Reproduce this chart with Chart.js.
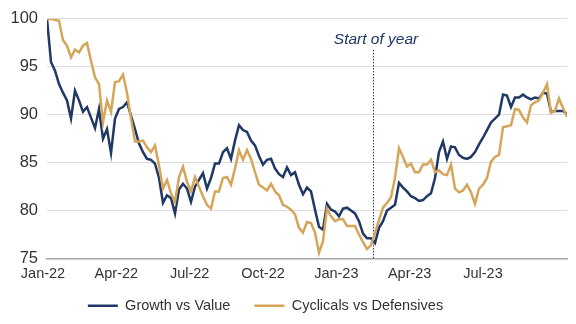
<!DOCTYPE html>
<html><head><meta charset="utf-8">
<script src="https://cdn.jsdelivr.net/npm/chart.js@4"></script>
<style>html,body{margin:0;padding:0;background:#fff}</style>
</head><body>
<canvas id="c" width="576" height="324"></canvas>
<script>
// ---- data ----
const seriesNames = ['Growth vs Value', 'Cyclicals vs Defensives'];
const tickLabels = ['Jan-22', 'Apr-22', 'Jul-22', 'Oct-22', 'Jan-23', 'Apr-23', 'Jul-23'];
const pointsPerLabel = 110 / 6;
const yTicks = [75, 80, 85, 90, 95, 100];
const startOfYearIndex = 81.5;
const startOfYearLabel = 'Start of year';

const growthVsValue = [
  100, 95.5, 94.6, 93.2, 92.3, 91.5, 89.6, 92.5, 91.5, 90.3,
  90.8, 89.7, 88.6, 90.6, 87.5, 88.5, 86.0, 89.6, 90.6, 90.8,
  91.3, 89.9, 88.5, 87.0, 86.1, 85.4, 85.3, 84.9, 83.4, 80.8,
  81.6, 81.3, 79.7, 82.2, 82.8, 82.3, 80.9, 82.5, 83.2, 83.9,
  82.3, 83.4, 84.9, 84.9, 86.1, 86.5, 85.4, 87.3, 88.9, 88.4,
  88.2, 87.3, 86.8, 85.7, 84.8, 85.3, 85.4, 84.4, 83.8, 83.5,
  84.5, 83.7, 84.0, 82.7, 81.7, 82.4, 82.0, 80.1, 78.3, 78.0,
  80.7, 80.1, 79.9, 79.4, 80.2, 80.3, 80.0, 79.7, 78.9, 77.6,
  77.1, 77.1, 76.6, 78.2, 78.9, 80.0, 80.3, 80.6, 82.9, 82.4,
  82.0, 81.5, 81.3, 81.0, 81.1, 81.5, 81.8, 83.4, 86.1, 87.2,
  85.4, 86.7, 86.6, 85.8, 85.5, 85.4, 85.6, 86.1, 86.9, 87.6,
  88.4, 89.2, 89.6, 90.0, 92.1, 92.0, 90.8, 91.8, 91.8, 92.1,
  91.8, 91.6, 91.8, 91.7, 92.3, 92.2, 90.3, 90.4, 90.4, 90.4,
  90.1
];

const cyclicalsVsDefensives = [
  100, 100, 99.9, 99.8, 97.8, 97.2, 96.0, 96.8, 96.5, 97.2,
  97.5, 95.6, 93.9, 93.2, 89.2, 91.5, 90.3, 93.4, 93.5, 94.2,
  92.3, 89.6, 87.2, 87.2, 87.3, 86.6, 86.1, 86.8, 84.7, 82.3,
  83.2, 81.8, 80.9, 83.5, 84.6, 83.0, 82.0, 83.5, 82.5, 81.5,
  80.6, 80.2, 82.0, 82.0, 83.4, 83.5, 82.7, 84.4, 86.3, 85.3,
  86.3, 85.4, 84.0, 82.7, 82.4, 82.1, 82.8, 82.0, 81.6, 80.6,
  80.4, 80.1, 79.6, 78.2, 77.7, 78.8, 78.7, 77.7, 75.6, 76.8,
  80.2, 79.4, 78.9, 79.1, 79.1, 78.4, 78.4, 78.4, 77.5, 76.7,
  76.0, 76.4, 77.7, 79.0, 80.3, 80.8, 81.4, 83.4, 86.5, 85.6,
  84.6, 84.9, 84.0, 84.0, 84.8, 84.8, 85.3, 84.0, 84.2, 83.8,
  83.7, 84.8, 82.3, 81.9, 82.1, 82.7, 81.9, 80.7, 82.3, 82.7,
  83.4, 85.1, 85.6, 85.8, 88.7, 88.8, 88.9, 90.6, 90.5, 89.7,
  89.2, 91.0, 91.3, 91.5, 92.3, 93.2, 90.2, 90.4, 91.7, 90.7,
  89.8
];

// ---- styles ----
const NAVY = '#1F3866';
const GOLD = '#D5A55A';
const TEXT = '#333333';
const FONT = '"Liberation Sans", Arial, sans-serif';

const toXY = arr => arr.map((v, i) => ({ x: i, y: v }));

const startLinePlugin = {
  id: 'startLine',
  beforeDatasetsDraw(chart) {
    const { ctx, chartArea, scales: { x } } = chart;
    const px = Math.round(x.getPixelForValue(startOfYearIndex)) + 0.5;
    ctx.save();
    ctx.strokeStyle = NAVY;
    ctx.lineWidth = 1;
    ctx.setLineDash([1.5, 1.5]);
    ctx.beginPath();
    ctx.moveTo(px, chartArea.top + 31);
    ctx.lineTo(px, chartArea.bottom);
    ctx.stroke();
    ctx.restore();
  },
  afterDatasetsDraw(chart) {
    const { ctx, chartArea, scales: { x } } = chart;
    const px = x.getPixelForValue(startOfYearIndex);
    ctx.save();
    ctx.font = 'italic 15.5px ' + FONT;
    ctx.fillStyle = NAVY;
    ctx.textAlign = 'center';
    ctx.textBaseline = 'middle';
    ctx.fillText(startOfYearLabel, px + 3, chartArea.top + 21);
    ctx.restore();
  }
};

const legendShift = {
  id: 'legendShift',
  afterLayout(chart) {
    const lg = chart.legend;
    const dx = -18, dy = -9;
    lg.left += dx; lg.right += dx;
    lg.top += dy; lg.bottom += dy;
  }
};

new Chart(document.getElementById('c'), {
  type: 'line',
  data: {
    datasets: [
      { label: seriesNames[0], data: toXY(growthVsValue), borderColor: NAVY, backgroundColor: NAVY,
        borderWidth: 2.5, pointRadius: 0, tension: 0, order: 1 },
      { label: seriesNames[1], data: toXY(cyclicalsVsDefensives), borderColor: GOLD, backgroundColor: GOLD,
        borderWidth: 2.5, pointRadius: 0, tension: 0, order: 0 }
    ]
  },
  options: {
    responsive: false,
    animation: false,
    devicePixelRatio: 1,
    layout: { padding: { top: 16, right: 9, bottom: -8, left: 0 } },
    scales: {
      x: {
        type: 'linear',
        min: 0,
        max: growthVsValue.length - 1,
        afterBuildTicks(scale) {
          scale.ticks = tickLabels.map((_, k) => ({ value: k * pointsPerLabel }));
        },
        afterFit(scale) { scale.height = 25; },
        ticks: {
          autoSkip: false, maxRotation: 0, padding: 6.8, labelOffset: -4,
          color: TEXT, font: { family: FONT, size: 14.5 },
          callback: (v, idx) => tickLabels[idx]
        },
        grid: { display: false, drawTicks: false },
        border: { display: true, color: '#A6A6A6', width: 1.5 }
      },
      y: {
        min: yTicks[0],
        max: yTicks[yTicks.length - 1],
        afterBuildTicks(scale) {
          scale.ticks = yTicks.map(v => ({ value: v }));
        },
        afterFit(scale) { scale.width = 47; },
        ticks: { padding: 9, color: TEXT, font: { family: FONT, size: 16.5 } },
        grid: { color: '#DCDCDC', lineWidth: 1, drawTicks: false },
        border: { display: false }
      }
    },
    plugins: {
      legend: {
        position: 'bottom',
        labels: {
          usePointStyle: true, pointStyle: 'line', pointStyleWidth: 30,
          padding: 24, color: TEXT, font: { family: FONT, size: 14.5 },
          sort: (a, b) => a.datasetIndex - b.datasetIndex
        }
      },
      tooltip: { enabled: false }
    }
  },
  plugins: [startLinePlugin, legendShift]
});
</script>
</body></html>
